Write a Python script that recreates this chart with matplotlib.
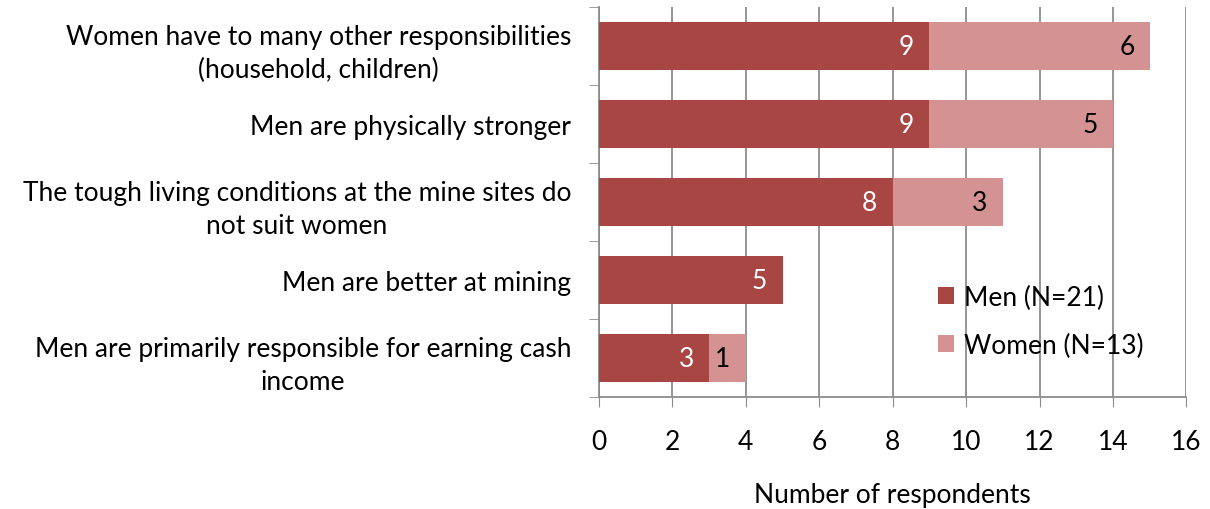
import matplotlib
matplotlib.use("Agg")
import matplotlib.pyplot as plt
import numpy as np

plt.rcParams['font.family'] = ['Lato', 'DejaVu Sans']

# data
reasons = ["Women have to many other responsibilities\n(household, children)",
           "Men are physically stronger",
           "The tough living conditions at the mine sites do\nnot suit women",
           "Men are better at mining",
           "Men are primarily responsible for earning cash\nincome"]
men = [9, 9, 8, 5, 3]
women = [6, 5, 3, 0, 1]
xticks = [0, 2, 4, 6, 8, 10, 12, 14, 16]

men_col = "#A84644"
women_col = "#D49392"
grid_col = "#8C8C8C"
fs = 19

fig = plt.figure(figsize=(12.1, 5.1), dpi=100)
ax = fig.add_axes([0.495, 0.2196, 0.4855, 0.7644])

y = np.arange(len(reasons))
h = 0.62
ax.barh(y, men, height=h, color=men_col, label="Men (N=21)", zorder=3)
ax.barh(y, women, height=h, left=men, color=women_col, label="Women (N=13)", zorder=3)

# value labels near the inner end of each segment
for i in range(len(reasons)):
    if men[i] > 0:
        ax.annotate(str(men[i]), (men[i], y[i]), xytext=(-11, 0), textcoords="offset points",
                    ha="right", va="center", color="white", fontsize=fs, zorder=4)
    if women[i] > 0:
        ax.annotate(str(women[i]), (men[i] + women[i], y[i]), xytext=(-11, 0), textcoords="offset points",
                    ha="right", va="center", color="black", fontsize=fs, zorder=4)

ax.set_xlim(0, 16)
ax.set_ylim(len(reasons) - 0.5, -0.5)
ax.set_xticks(xticks)
ax.set_xticklabels([str(t) for t in xticks], fontsize=fs)
ax.tick_params(axis="x", length=7, color=grid_col, pad=16)
ax.xaxis.grid(True, color=grid_col, linewidth=1.3, zorder=0)

ax.set_yticks(y)
ax.set_yticklabels(reasons, fontsize=fs, multialignment="center", linespacing=1.4)
ax.tick_params(axis="y", length=0, pad=20)
ax.set_yticks(np.arange(len(reasons) + 1) - 0.5, minor=True)
ax.tick_params(axis="y", which="minor", length=7, color=grid_col)

for s in ["top", "right"]:
    ax.spines[s].set_visible(False)
ax.spines["left"].set_color(grid_col)
ax.spines["bottom"].set_color(grid_col)
ax.spines["left"].set_linewidth(1.3)
ax.spines["bottom"].set_linewidth(1.3)

ax.set_xlabel("Number of respondents", fontsize=fs, labelpad=20)

ax.legend(loc="lower right", bbox_to_anchor=(0.968, 0.04), frameon=False, fontsize=fs,
          handlelength=0.6, handleheight=0.6, handletextpad=0.4, labelspacing=0.85)

fig.savefig("out.png", dpi=100)
